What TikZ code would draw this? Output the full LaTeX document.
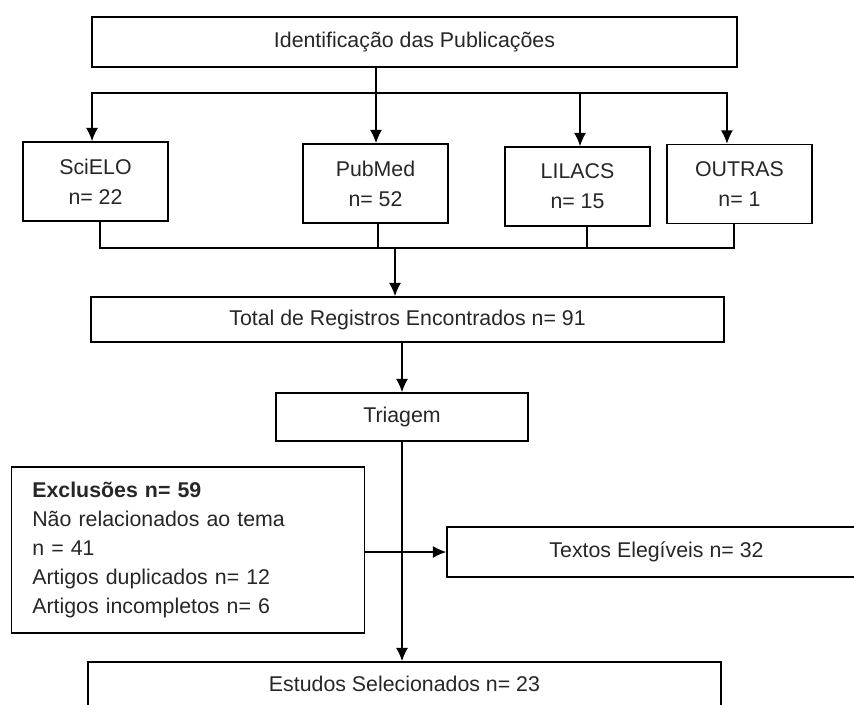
\documentclass[tikz,border=0pt]{standalone}
\usepackage{fontspec}
\setmainfont{Liberation Sans}
\usetikzlibrary{arrows.meta,positioning,calc}
\tikzset{
        block/.style = {draw, rectangle, line width=1.2pt,
            align=center, text=black!85,
            font=\fontsize{16}{22.5}\selectfont},
        source/.style = {block,
            minimum width=108.75pt,
            minimum height=59.25pt},
        arrow/.style={draw, line width=1pt, -{Latex[length=10pt,width=9pt]}},
        link/.style={draw, line width=1pt},
    }

\begin{document}
\begin{tikzpicture}[x=0.75pt, y=-0.75pt]
		\useasboundingbox (0,0) rectangle (854,704);
		\node[block, minimum width=483.75pt, minimum height=37.5pt]    (Identificacao) at (414.5,42)    {Identificação das Publicações};
		\node[source]    (SciELO) at (95.5,181.5)     {SciELO\\n= 22};
		\node[source]    (PubMed) at (375.5,183.5)     {PubMed\\n= 52};
		\node[source]    (LILACS) at (577.5,186.5)     {LILACS\\n= 15};
		\node[source]    (Outras) at (739.5,184)     {OUTRAS\\n= 1};
		\node[block, minimum width=474.75pt, minimum height=33.75pt]    (Total) at (407.5,319.5)     {Total de Registros Encontrados n= 91};
		\node[block, minimum width=189pt, minimum height=36pt]    (Triagem) at (402,417)     {Triagem};
		\node[block, align=left, text width=233.5pt, inner xsep=15.75pt, minimum height=124.5pt,
			font=\fontsize{16}{21.75}\selectfont]    (Exclusoes) at (188,550)
			{\textbf{Exclusões n= 59}\\Não relacionados ao tema\\n = 41\\Artigos duplicados n= 12\\Artigos incompletos n= 6};
		\node[block, minimum width=314.25pt, minimum height=37.5pt]    (Textos) at (656.5,552)     {Textos Elegíveis n= 32};
		\node[block, minimum width=474.75pt, minimum height=33pt]    (Estudos) at (404.5,684)     {Estudos Selecionados n= 23};
		\coordinate (Split) at (376,93);
		\coordinate (Merge) at (395,248);
		\draw[link] (Identificacao.south -| Split) -- (Split);
		\draw[arrow] (Split) -| ([xshift=-2.6pt]SciELO.north);
		\draw[arrow] (Split) -- (Split |- PubMed.north);
		\draw[arrow] (Split) -| ([xshift=1.9pt]LILACS.north);
		\draw[arrow] (Split) -| ([xshift=-9.4pt]Outras.north);
		\draw[link] ([xshift=3.4pt]SciELO.south) |- (Merge);
		\draw[link] ([xshift=1.9pt]PubMed.south) |- (Merge);
		\draw[link] ([xshift=7.1pt]LILACS.south) |- (Merge);
		\draw[link] ([xshift=-4.1pt]Outras.south) |- (Merge);
		\draw[arrow] (Merge) -- (Merge |- Total.north);
		\draw[arrow] (Total.south -| Triagem) -- (Triagem.north);
		\draw[arrow] (Triagem.south) -- (Triagem.south |- Estudos.north);
		\draw[arrow] (Exclusoes.east |- Textos) -- (Textos.west);
\end{tikzpicture}
\end{document}
